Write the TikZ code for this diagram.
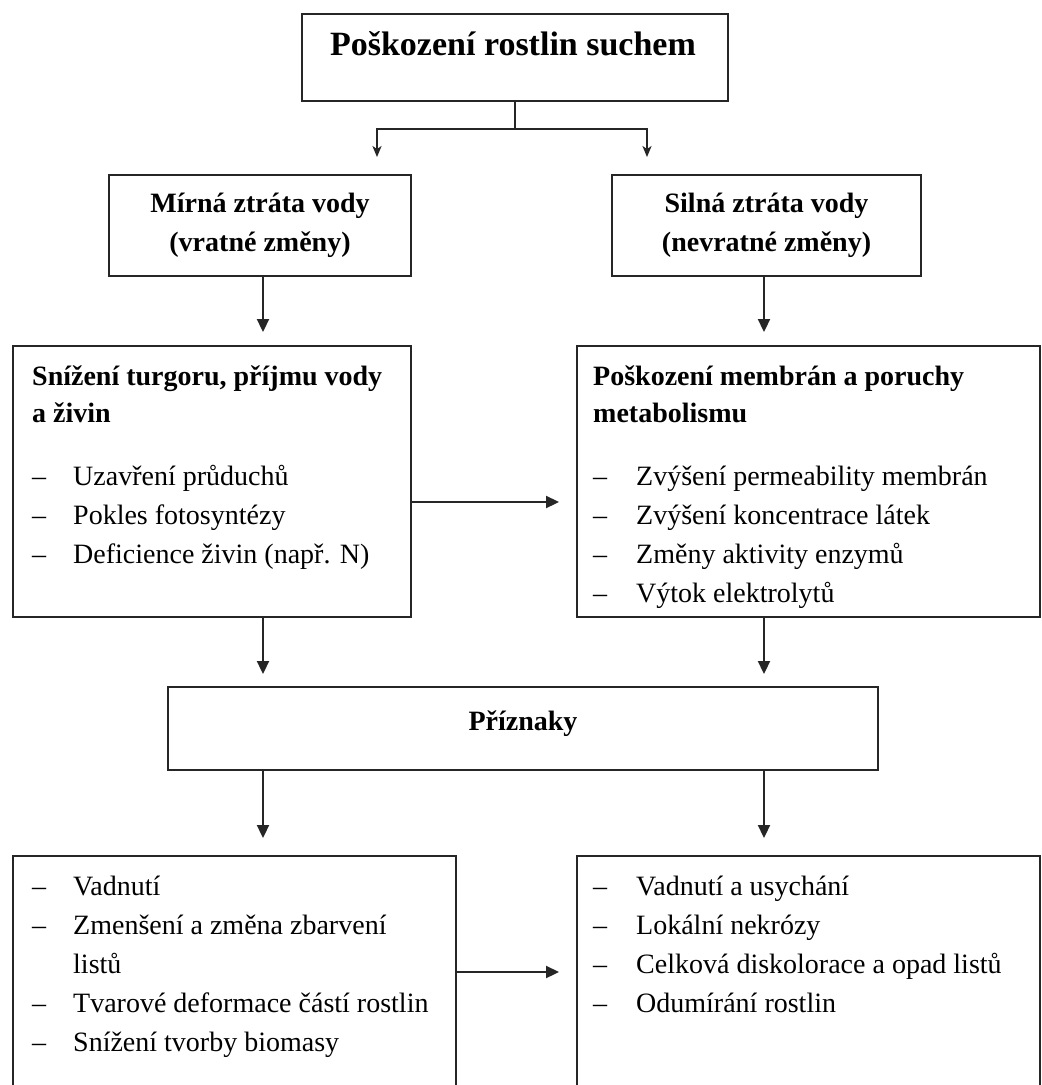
\documentclass[tikz,border=0pt]{standalone}
\usepackage{fontspec}
\setmainfont{Liberation Serif}
\usetikzlibrary{arrows.meta,calc}
\begin{document}
\begin{tikzpicture}[x=1pt,y=-1pt,
  box/.style={draw=black!85,line width=1.9pt,rectangle,inner sep=0pt},
  ln/.style={draw=black!85,line width=1.9pt},
  arr/.style={ln,-{Triangle[length=13pt,width=12pt]},shorten >=13pt},
  sarr/.style={ln,-{Stealth[length=11pt,width=9pt,inset=3pt]},shorten >=17pt},
  txt/.style={inner sep=0pt,font=\fontsize{28}{39}\selectfont},
  btxt/.style={inner sep=0pt,font=\fontsize{28}{39}\selectfont\bfseries},
  li/.style={txt,anchor=base west}]
\useasboundingbox (0,0) rectangle (1042,1085);
\clip (0,0) rectangle (1042,1085);
\fill[white] (0,0) rectangle (1042,1085);
\newcommand\dsh{\makebox[41pt][l]{–}}
% boxes
\node[box,minimum width=426pt,minimum height=87pt] (top) at (515,57.5) {};
\node[box,minimum width=302pt,minimum height=101pt] (mL) at (260,225.5) {};
\node[box,minimum width=309pt,minimum height=101pt] (mR) at (766.5,225.5) {};
\node[box,minimum width=398pt,minimum height=271pt] (bL) at (212,481.5) {};
\node[box,minimum width=463pt,minimum height=271pt] (bR) at (808.5,481.5) {};
\node[box,minimum width=710pt,minimum height=83pt] (pz) at (523,728.5) {};
\node[box,minimum width=443pt,minimum height=254pt] (sL) at (234.5,983) {};
\node[box,minimum width=463pt,minimum height=254pt] (sR) at (808.5,983) {};
% texts
\node[inner sep=0pt,font=\fontsize{34}{40}\selectfont\bfseries,anchor=base] (tt) at (513,55) {Poškození rostlin suchem};
\node[btxt,align=center] (mLt) at (mL.center) {Mírná ztráta vody\\(vratné změny)};
\node[btxt,align=center] (mRt) at (mR.center) {Silná ztráta vody\\(nevratné změny)};
\node[btxt,anchor=base] (pzt) at (523,730) {Příznaky};
\node[btxt,anchor=base west] (bLt1) at (32,385) {Snížení turgoru, příjmu vody};
\node[btxt,anchor=base west] (bLt2) at (32,422) {a živin};
\node[li] (bL1) at (32,485) {\dsh Uzavření průduchů};
\node[li] (bL2) at (32,524) {\dsh Pokles fotosyntézy};
\node[li] (bL3) at (32,563) {\dsh Deficience živin (např. N)};
\node[btxt,anchor=base west] (bRt1) at (593,385) {Poškození membrán a poruchy};
\node[btxt,anchor=base west] (bRt2) at (593,422) {metabolismu};
\node[li] (bR1) at (593,485) {\dsh\hspace{2pt}Zvýšení permeability membrán};
\node[li] (bR2) at (593,524) {\dsh\hspace{2pt}Zvýšení koncentrace látek};
\node[li] (bR3) at (593,563) {\dsh\hspace{2pt}Změny aktivity enzymů};
\node[li] (bR4) at (593,602) {\dsh\hspace{2pt}Výtok elektrolytů};
\node[li] (sL1) at (32,895) {\dsh Vadnutí};
\node[li] (sL2) at (32,934) {\dsh Zmenšení a změna zbarvení};
\node[li] (sL3) at (32,973) {\hspace{41pt}listů};
\node[li] (sL4) at (32,1012) {\dsh Tvarové deformace částí rostlin};
\node[li] (sL5) at (32,1051) {\dsh Snížení tvorby biomasy};
\node[li] (sR1) at (593,895) {\dsh\hspace{2pt}Vadnutí a usychání};
\node[li] (sR2) at (593,934) {\dsh\hspace{2pt}Lokální nekrózy};
\node[li] (sR3) at (593,973) {\dsh\hspace{2pt}Celková diskolorace a opad listů};
\node[li] (sR4) at (593,1012) {\dsh\hspace{2pt}Odumírání rostlin};
% connectors
\coordinate (jn) at (515,129);
\coordinate (jl) at (377,129);
\coordinate (jr) at (647,129);
\coordinate (cl) at (263,0);
\coordinate (cr) at (764,0);
\coordinate (h1) at (0,502);
\coordinate (h2) at (0,972);
\draw[ln] (top.south) -- (jn);
\draw[sarr] (jn) -- (jl) -- (jl |- mL.north);
\draw[sarr] (jn) -- (jr) -- (jr |- mR.north);
\draw[arr] (mL.south -| cl) -- (bL.north -| cl);
\draw[arr] (mR.south -| cr) -- (bR.north -| cr);
\draw[arr,shorten >=17pt] (bL.east |- h1) -- (bR.west |- h1);
\draw[arr,shorten >=12pt] (bL.south -| cl) -- (pz.north -| cl);
\draw[arr,shorten >=12pt] (bR.south -| cr) -- (pz.north -| cr);
\draw[arr,shorten >=17pt] (pz.south -| cl) -- (sL.north -| cl);
\draw[arr,shorten >=17pt] (pz.south -| cr) -- (sR.north -| cr);
\draw[arr,shorten >=17pt] (sL.east |- h2) -- (sR.west |- h2);
\end{tikzpicture}
\end{document}
